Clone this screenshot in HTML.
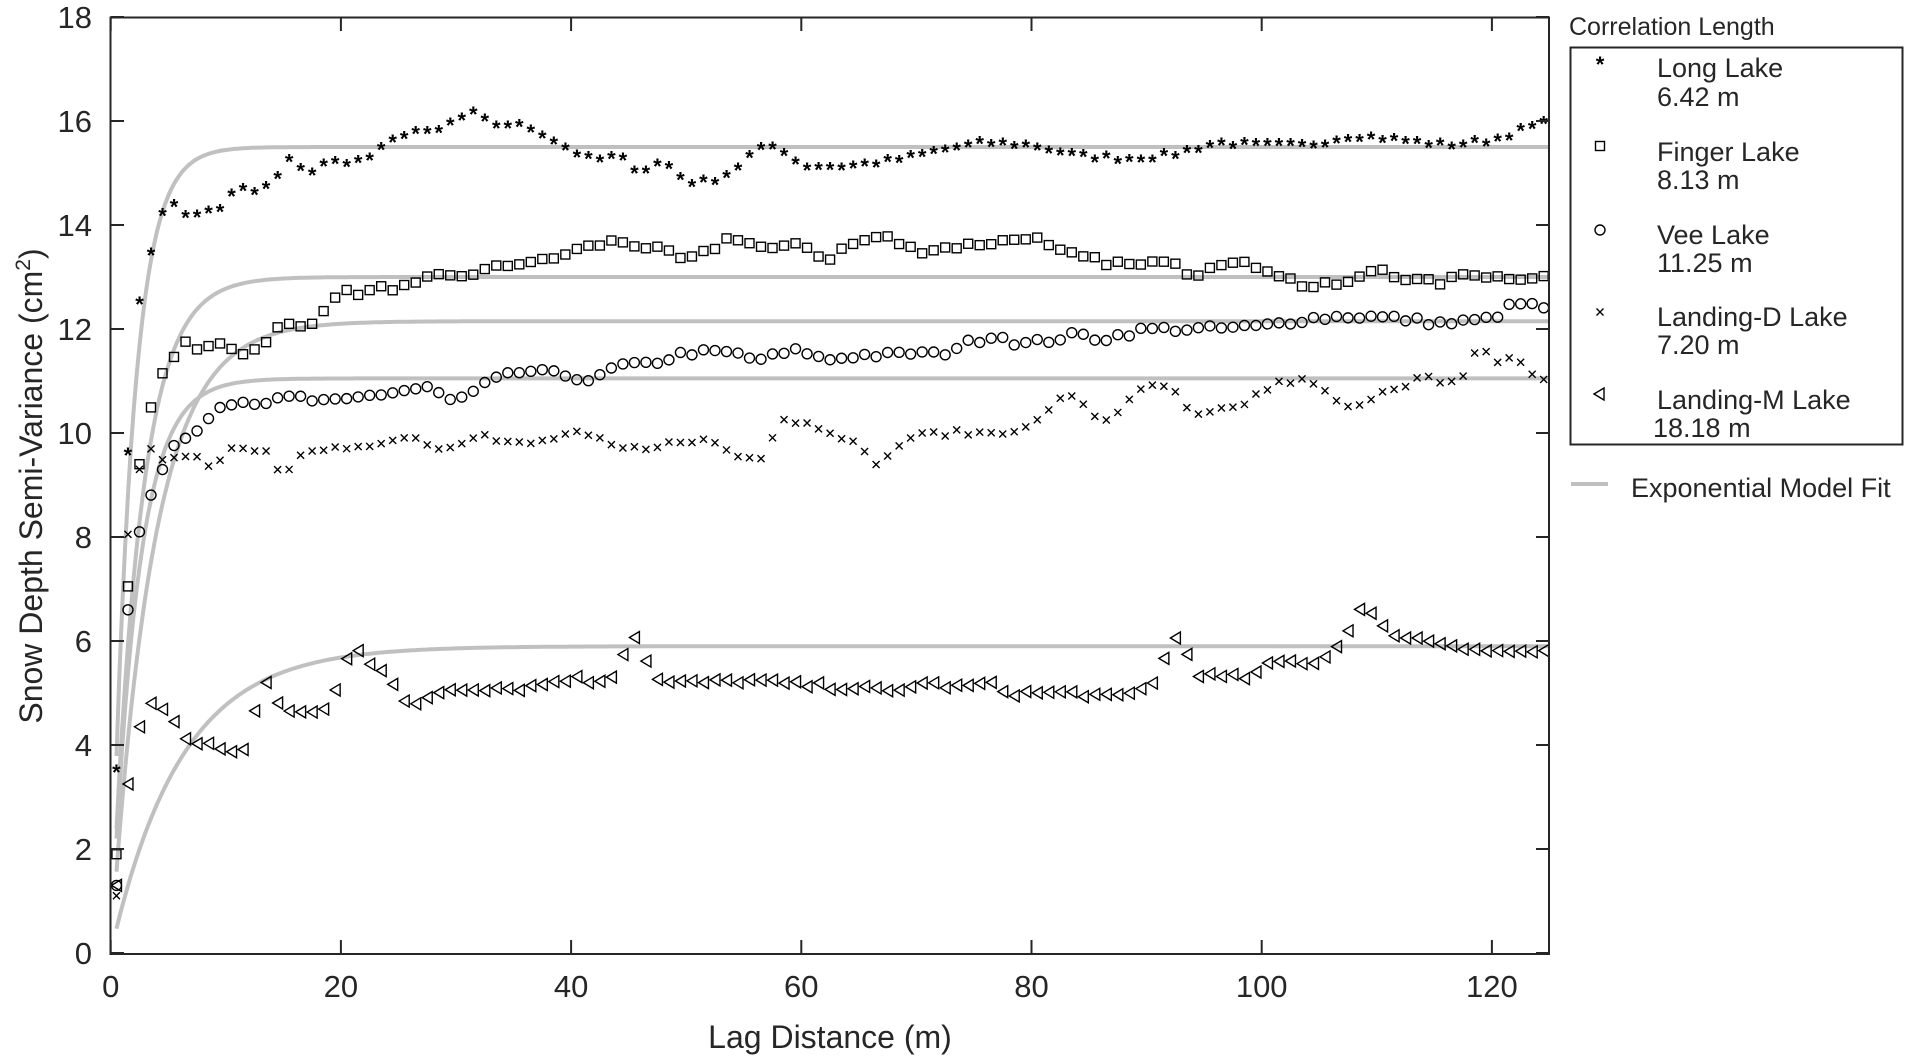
<!DOCTYPE html>
<html><head><meta charset="utf-8">
<style>
html,body{margin:0;padding:0;background:#fff;}
svg{display:block;font-family:"Liberation Sans",Arial,sans-serif;}
</style></head>
<body>
<svg id="s" width="1913" height="1056" xmlns="http://www.w3.org/2000/svg">
<rect width="1913" height="1056" fill="#fff"/>
<g id="curves"></g>
<g id="pts"></g>
<rect x="110.5" y="17.5" width="1438.5" height="936.5" fill="none" stroke="#262626" stroke-width="2"/>
<g id="ticks" stroke="#262626" stroke-width="2"></g>
<g font-size="31" fill="#262626" id="lbl"></g>
<text x="830" y="1048" font-size="32" fill="#262626" text-anchor="middle">Lag Distance (m)</text>
<text transform="translate(42,486) rotate(-90)" font-size="32" fill="#262626" text-anchor="middle">Snow Depth Semi-Variance (cm<tspan dy="-12" font-size="21">2</tspan><tspan dy="12">)</tspan></text>
<text x="1569" y="35" font-size="25" fill="#262626">Correlation Length</text>
<rect x="1570.5" y="47.5" width="332" height="397" fill="#fff" stroke="#262626" stroke-width="2"/>
<g font-size="27" fill="#262626">
<text x="1657" y="77">Long Lake</text><text x="1657" y="106">6.42 m</text>
<text x="1657" y="161">Finger Lake</text><text x="1657" y="189">8.13 m</text>
<text x="1657" y="244">Vee Lake</text><text x="1657" y="272">11.25 m</text>
<text x="1657" y="326">Landing-D Lake</text><text x="1657" y="354">7.20 m</text>
<text x="1657" y="409">Landing-M Lake</text><text x="1653" y="437">18.18 m</text>
<text x="1631" y="497">Exponential Model Fit</text>
</g>
<line x1="1571" y1="484" x2="1608" y2="484" stroke="#c0c0c0" stroke-width="4"/>
<g id="leg"></g>
</svg>
<script>
var NS="http://www.w3.org/2000/svg";
function X(h){return 110.7+h*11.51;}
function Y(v){return 953-v*52;}
function el(p,t,a){var e=document.createElementNS(NS,t);for(var k in a)e.setAttribute(k,a[k]);document.getElementById(p).appendChild(e);return e;}
// ticks
for(var v=0;v<=18;v+=2){var y=Y(v);el('ticks','line',{x1:110.7,y1:y,x2:124,y2:y});el('ticks','line',{x1:1549,y1:y,x2:1536,y2:y});
 var t=el('lbl','text',{x:92,y:y+11,'text-anchor':'end'});t.textContent=v;}
for(var h=0;h<=120;h+=20){var x=X(h);el('ticks','line',{x1:x,y1:953,x2:x,y2:940});el('ticks','line',{x1:x,y1:17,x2:x,y2:31});
 var t=el('lbl','text',{x:x,y:997,'text-anchor':'middle'});t.textContent=h;}
// curves
var fits=[[15.5,6.42,3.6],[13.0,8.13,3.3],[12.15,11.25,3.1],[11.05,7.2,3.2],[5.9,18.18,3.0]];
fits.forEach(function(f){var d='';for(var h=0.5;h<=125;h+=0.25){d+=(h==0.5?'M':'L')+X(h).toFixed(1)+','+Y(f[0]*(1-Math.exp(-f[2]*h/f[1]))).toFixed(1);}
 el('curves','path',{d:d,fill:'none',stroke:'#c0c0c0','stroke-width':4});});
var D={
long:[[0.5,3.5],[1,7.4],[2,11.8],[3,13.2],[4,13.8],[5,14.5],[6,14.3],[7,14.1],[8,14.2],[9,14.3],[10,14.3],[11,14.8],[12,14.5],[13,14.7],[14,14.7],[15,15.1],[16,15.3],[17,14.9],[18,15.1],[20,15.2],[22,15.2],[24,15.5],[26,15.8],[28,15.7],[30,16.0],[31.5,16.1],[33,15.9],[35,15.9],[37,15.8],[40,15.4],[42,15.2],[44,15.3],[46,15.0],[48,15.2],[50,14.8],[52,14.8],[54,15.0],[56,15.4],[58,15.5],[60,15.1],[64,15.1],[68,15.2],[72,15.4],[76,15.55],[80,15.5],[84,15.3],[88,15.25],[92,15.3],[96,15.55],[100,15.5],[104,15.5],[108,15.7],[112,15.6],[116,15.5],[120,15.6],[124,15.9],[125,15.95]],
fin:[[0.5,1.9],[1,5.5],[2,8.6],[3,10.2],[4,10.9],[5,11.3],[6,11.7],[7,11.7],[8,11.5],[9,11.8],[10,11.7],[11,11.6],[12,11.5],[13,11.7],[14,11.9],[15,12.1],[17,12.0],[18,12.2],[19,12.6],[20,12.7],[22,12.7],[24,12.8],[26,12.8],[28,13.0],[30,13.0],[32,13.1],[36,13.3],[38,13.3],[40,13.5],[42,13.6],[44,13.7],[46,13.6],[48,13.5],[50,13.3],[52,13.5],[54,13.8],[56,13.6],[58,13.5],[60,13.7],[62,13.3],[64,13.6],[67,13.8],[70,13.5],[74,13.6],[78,13.7],[80,13.8],[82,13.5],[86,13.3],[90,13.2],[92,13.4],[94,13.0],[96,13.3],[100,13.2],[102,13.0],[104,12.8],[108,12.9],[110,13.2],[112,13.0],[114,12.9],[116,12.9],[118,13.1],[120,13.0],[125,13.0]],
vee:[[0.5,1.3],[1,5.5],[2,7.7],[3,8.5],[4,9.1],[5,9.5],[6,9.9],[7,10.0],[8,10.1],[9,10.5],[10,10.6],[12,10.6],[14,10.6],[16,10.7],[18,10.6],[20,10.6],[22,10.7],[25,10.8],[28,10.9],[29,10.6],[31,10.7],[33,11.0],[36,11.2],[40,11.1],[42,11.0],[44,11.3],[46,11.3],[48,11.4],[50,11.55],[54,11.55],[56,11.4],[58,11.5],[60,11.6],[62,11.4],[65,11.5],[68,11.5],[70,11.55],[72,11.5],[74,11.7],[77,11.9],[79,11.7],[82,11.8],[84,11.9],[86,11.8],[88,11.9],[90,12.0],[95,12.0],[100,12.05],[104,12.2],[108,12.25],[112,12.2],[116,12.1],[120,12.2],[122,12.5],[125,12.4]],
ld:[[0.5,1.1],[1,7.4],[2,8.7],[3,9.9],[4,9.4],[5,9.5],[6,9.5],[8,9.5],[9,9.3],[10,9.6],[11,9.9],[12,9.6],[14,9.6],[15,9.1],[16,9.6],[18,9.6],[20,9.7],[22,9.8],[24,9.8],[26,10.0],[28,9.7],[30,9.8],[32,10.0],[34,9.8],[37,9.8],[40,10.0],[42,9.9],[44,9.7],[46,9.7],[48,9.8],[50,9.8],[52,9.9],[54,9.6],[57,9.55],[58,10.3],[60,10.2],[62,10.1],[64,9.9],[66,9.5],[67,9.4],[69,9.9],[72,10.0],[76,10.0],[80,10.1],[82,10.6],[84,10.7],[86,10.2],[88,10.5],[90,10.9],[92,10.9],[93,10.6],[94,10.3],[98,10.5],[100,10.8],[102,11.0],[104,11.0],[106,10.7],[108,10.4],[110,10.8],[112,10.9],[114,11.1],[116,10.9],[118,11.1],[119,11.9],[120,11.3],[122,11.5],[124,11.0],[125,11.0]],
lm:[[0.5,1.3],[1,2.6],[2,3.9],[3,4.8],[4,4.8],[5,4.6],[6,4.3],[7,4.0],[9,4.0],[10,3.9],[12,3.9],[13,5.4],[14,4.9],[15,4.7],[17,4.6],[19,4.7],[20,5.4],[21,6.0],[22,5.7],[23,5.5],[24,5.4],[25,4.9],[26,4.7],[28,5.0],[30,5.1],[33,5.1],[36,5.1],[38,5.2],[40,5.3],[42,5.2],[44,5.4],[45,6.15],[46,6.0],[47,5.3],[48,5.2],[52,5.2],[55,5.25],[60,5.15],[65,5.1],[68,5.0],[70,5.2],[74,5.1],[76,5.2],[78,5.0],[84,5.0],[87,4.9],[89,5.0],[91,5.3],[92,6.0],[93,6.1],[94,5.4],[96,5.3],[99,5.3],[101,5.6],[103,5.6],[105,5.6],[107,6.0],[108,6.5],[109,6.7],[110,6.3],[112,6.1],[116,5.95],[120,5.8],[125,5.8]]};
function interp(a,h){for(var i=0;i<a.length-1;i++){if(h<=a[i+1][0]){var t=(h-a[i][0])/(a[i+1][0]-a[i][0]);return a[i][1]+t*(a[i+1][1]-a[i][1]);}}return a[a.length-1][1];}
var seed=7;function rnd(){seed=(seed*16807)%2147483647;return seed/2147483647-0.5;}
function mk(p,type,x,y){
 if(type=='long'){el(p,'text',{x:x,y:y+9,'font-size':22,'text-anchor':'middle',fill:'#000','font-weight':'bold'}).textContent='*';}
 else if(type=='fin'){el(p,'rect',{x:x-4.5,y:y-4.5,width:9,height:9,fill:'none',stroke:'#000','stroke-width':1.4});}
 else if(type=='vee'){el(p,'circle',{cx:x,cy:y,r:5,fill:'none',stroke:'#000','stroke-width':1.4});}
 else if(type=='ld'){el(p,'path',{d:'M'+(x-3.5)+','+(y-3.5)+'L'+(x+3.5)+','+(y+3.5)+'M'+(x-3.5)+','+(y+3.5)+'L'+(x+3.5)+','+(y-3.5),stroke:'#000','stroke-width':1.4});}
 else {el(p,'path',{d:'M'+(x-5)+','+y+'L'+(x+5)+','+(y-6)+'L'+(x+5)+','+(y+6)+'Z',fill:'none',stroke:'#000','stroke-width':1.4});}
}
for(var k in D){var a=D[k];for(var h=0.5;h<=125.01;h+=1){var v=interp(a,h)+(h>3?rnd()*0.12:0);mk('pts',k,X(h),Y(v));}}
mk('leg','long',1600,63);mk('leg','fin',1600,146);mk('leg','vee',1600,230);mk('leg','ld',1600,312);mk('leg','lm',1599,394);
</script>
</body></html>
